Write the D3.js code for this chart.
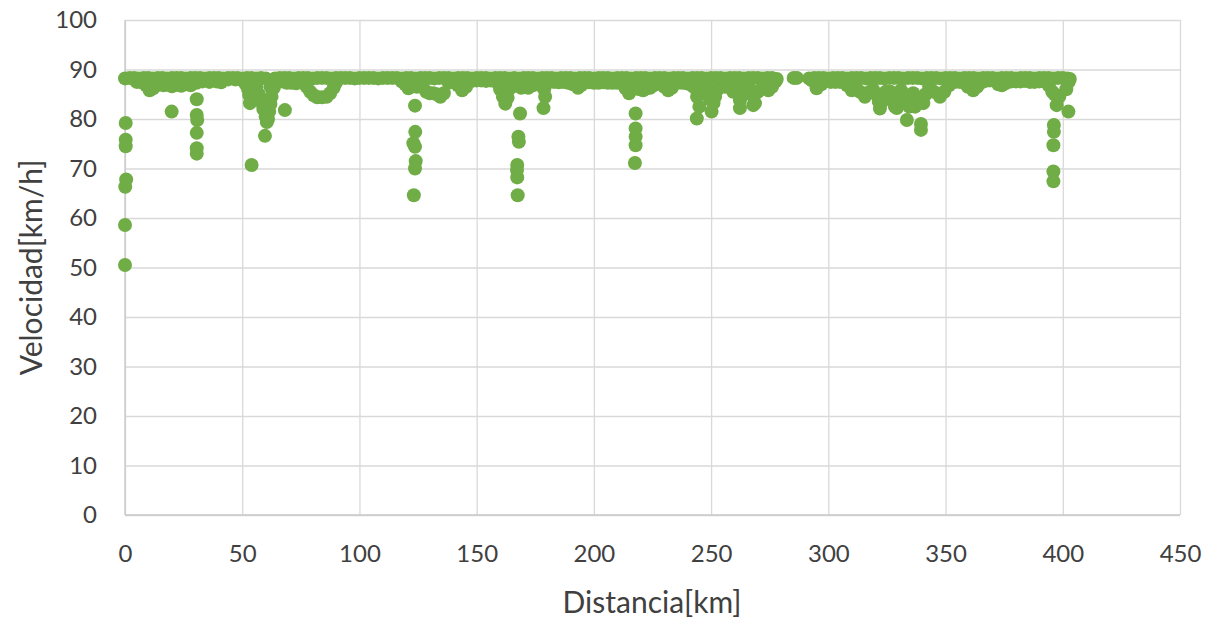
<!DOCTYPE html>
<html>
<head>
<meta charset="utf-8">
<script src="https://cdn.jsdelivr.net/npm/d3@7"></script>
<style>
  html, body { margin: 0; padding: 0; background: #fff; }
  svg { display: block; }
  text { font-family: Lato, "Open Sans", sans-serif; fill: #404040; }
</style>
</head>
<body>
<svg id="chart" width="1216" height="621"></svg>
<script>
// Tick labels
const xTicks = [0, 50, 100, 150, 200, 250, 300, 350, 400, 450];
const yTicks = [0, 10, 20, 30, 40, 50, 60, 70, 80, 90, 100];

// Cruise band: distance [km] and speed [km/h]
const bandaDist = [
  0, 2, 4, 6, 8, 10, 12, 14, 16, 18, 20, 22, 24, 26, 28, 30, 32, 34, 36, 38,
  40, 42, 44, 46, 48, 50, 52, 54, 56, 58, 60, 62, 64, 66, 68, 70, 72, 74, 76, 78,
  80, 82, 84, 86, 88, 90, 92, 94, 96, 98, 100, 102, 104, 106, 108, 110, 112, 114, 116, 118,
  120, 122, 124, 126, 128, 130, 132, 134, 136, 138, 140, 142, 144, 146, 148, 150, 152, 154, 156, 158,
  160, 162, 164, 166, 168, 170, 172, 174, 176, 178, 180, 182, 184, 186, 188, 190, 192, 194, 196, 198,
  200, 202, 204, 206, 208, 210, 212, 214, 216, 218, 220, 222, 224, 226, 228, 230, 232, 234, 236, 238,
  240, 242, 244, 246, 248, 250, 252, 254, 256, 258, 260, 262, 264, 266, 268, 270, 272, 274, 276, 278,
  285.2, 286.6, 291.8, 294, 296, 298, 300, 302, 304, 306, 308, 310, 312, 314, 316, 318, 320, 322, 324, 326,
  328, 330, 332, 334, 336, 338, 340, 342, 344, 346, 348, 350, 352, 354, 356, 358, 360, 362, 364, 366,
  368, 370, 372, 374, 376, 378, 380, 382, 384, 386, 388, 390, 392, 394, 396, 398, 400, 402, 403
];
const bandaVel = [
  88.2, 88.3, 88.3, 88.2, 88.3, 88.3, 88.2, 88.3, 88.3, 88.2, 88.3, 88.3, 88.3, 88.2, 88.3, 88.3, 88.3, 88.2, 88.3, 88.3,
  88.3, 88.2, 88.3, 88.3, 88.3, 88.2, 88.3, 88.3, 88.2, 88.3, 88.2, 86.5, 88.2, 88.3, 88.3, 88.3, 88.2, 88.3, 88.3, 88.3,
  88.2, 88.3, 88.3, 88.3, 88.2, 88.3, 88.3, 88.3, 88.3, 88.2, 88.3, 88.3, 88.3, 88.3, 88.2, 88.3, 88.3, 88.3, 88.3, 88.2,
  88.3, 88.3, 88.2, 88.3, 88.3, 88.3, 88.2, 88.3, 88.3, 88.3, 88.2, 88.3, 88.3, 88.3, 88.2, 88.3, 88.3, 88.3, 88.2, 88.3,
  88.3, 88.3, 88.2, 88.3, 88.2, 88.3, 88.3, 88.3, 88.2, 88.3, 88.3, 88.3, 88.2, 88.3, 88.3, 88.3, 88.2, 88.3, 88.3, 88.3,
  88.2, 88.3, 88.3, 88.3, 88.2, 88.3, 88.3, 88.3, 88.2, 88.3, 88.3, 88.3, 88.2, 88.3, 88.3, 88.3, 88.2, 88.3, 88.3, 88.3,
  88.2, 88.3, 88.3, 88.3, 88.2, 88.3, 88.3, 88.3, 88.2, 88.3, 88.3, 88.3, 88.2, 88.3, 88.3, 88.3, 88.2, 88.3, 88.3, 88.1,
  88.3, 88.3, 88.2, 88.3, 88.3, 88.3, 88.2, 88.3, 88.3, 88.3, 88.2, 88.3, 88.3, 88.3, 88.2, 88.3, 88.3, 88.3, 88.2, 88.3,
  88.3, 88.3, 88.2, 88.3, 88.3, 88.3, 88.2, 88.3, 88.3, 88.3, 88.2, 88.3, 88.3, 88.3, 88.2, 88.3, 88.3, 88.3, 88.2, 88.3,
  88.3, 88.3, 88.2, 88.3, 88.3, 88.3, 88.2, 88.3, 88.3, 88.3, 88.2, 88.3, 88.3, 88.3, 88.2, 88.3, 88.3, 88.2, 88.1
];

// Slower readings just under the cruise band
const lentoDist = [
  5, 7, 9, 10.5, 12, 13.5, 15, 16.5, 18, 20, 22, 24, 26, 28, 30.5, 33, 36, 39, 41, 44,
  47, 50, 51.5, 52.5, 53, 56, 57, 58, 59, 60, 60.5, 61, 61.5, 62, 62.5, 63.5, 64.5, 65, 67, 69,
  71, 73, 75, 77.5, 79, 80.5, 82, 84, 86, 87.5, 89, 90, 118, 119.5, 120.9, 122, 124.5, 127, 128.5, 130,
  131.5, 133, 134.5, 136, 138, 140, 142, 143.8, 145.5, 148, 150, 152, 154, 156, 158, 160, 161.2, 162.2, 163.2, 164.5,
  166, 169, 170.5, 172, 174, 176, 178.8, 179.2, 178.5, 181, 183, 185, 187, 189, 191, 193.2, 194.5, 196, 198, 200,
  202, 204, 206, 208, 210, 212, 213.5, 215, 216.5, 219.5, 221, 222.5, 224, 225.5, 227, 228.5, 230, 231.7, 233.3, 235.5,
  237.5, 239.5, 241, 242.5, 244, 245, 246, 248, 249.5, 251, 251.7, 252.5, 254, 256, 258, 259.4, 261, 262.3, 262.3, 263.5,
  265, 266.5, 268, 268, 268.7, 270, 272, 274.4, 276, 277.5, 293, 295, 297, 299, 301, 303, 305, 308, 310, 311.5,
  313.5, 315.6, 317, 319, 320.5, 321.5, 322, 323, 324.5, 326.5, 327.5, 328.4, 329.2, 330, 331, 332, 334.5, 335.5, 336.2, 337,
  340.5, 341.5, 343, 345, 347.6, 349.5, 351.5, 354, 356, 358, 359.5, 361.8, 363.5, 365, 367, 369, 372.5, 374, 375.5, 378,
  380, 382, 384, 386, 388, 390, 392, 394, 395.5, 396.5, 397.4, 398.5, 401.5, 402.5
];
const lentoVel = [
  87.5, 87.4, 86.8, 85.8, 86.2, 86.8, 87.0, 86.8, 87.0, 86.6, 86.9, 86.7, 87.0, 86.8, 87.3, 87.6, 87.5, 87.6, 87.4, 88.0,
  88.0, 87.8, 87.0, 86.0, 84.8, 86.5, 85.0, 83.5, 82.0, 80.5, 79.4, 80.0, 81.5, 83.0, 84.5, 86.3, 87.5, 87.5, 87.6, 87.3,
  87.3, 87.2, 87.4, 86.5, 85.5, 84.8, 84.4, 84.4, 84.5, 85.2, 86.3, 87.3, 87.6, 87.0, 86.2, 87.0, 86.5, 86.5, 85.5, 85.2,
  85.2, 85.0, 84.5, 85.2, 87.3, 87.5, 86.8, 85.8, 86.5, 87.7, 87.8, 87.8, 87.7, 87.8, 87.6, 86.0, 84.5, 83.1, 84.3, 86.3,
  86.8, 86.3, 86.5, 86.3, 86.8, 87.0, 86.0, 84.5, 82.2, 87.5, 87.5, 87.4, 87.5, 87.3, 87.0, 86.3, 86.8, 87.3, 87.4, 87.3,
  87.3, 87.4, 87.3, 87.3, 87.3, 87.2, 86.2, 85.2, 86.0, 86.0, 85.8, 86.2, 86.3, 86.8, 87.3, 87.2, 86.5, 85.8, 86.3, 87.3,
  87.3, 87.2, 87.0, 86.5, 84.5, 82.5, 85.9, 86.5, 84.0, 83.2, 84.5, 85.8, 86.8, 86.5, 86.5, 85.5, 86.5, 83.8, 82.2, 85.0,
  86.8, 86.0, 84.5, 82.8, 83.2, 85.5, 86.5, 85.8, 86.5, 87.6, 87.8, 86.2, 87.0, 87.8, 87.5, 87.5, 87.5, 86.8, 85.8, 86.5,
  85.5, 84.5, 85.3, 86.0, 85.0, 83.5, 82.1, 83.5, 85.5, 85.5, 83.8, 82.5, 82.2, 84.5, 85.8, 83.5, 82.5, 84.5, 85.2, 82.5,
  83.2, 85.0, 86.5, 85.5, 84.5, 85.5, 86.8, 87.5, 87.5, 87.3, 86.5, 85.8, 86.5, 87.3, 87.7, 87.8, 87.0, 86.8, 87.2, 87.6,
  87.6, 87.6, 87.7, 87.5, 87.5, 87.6, 87.6, 86.8, 85.5, 85.0, 82.8, 84.5, 86.0, 87.5
];

// Sharp slowdowns (stops, junctions, toll plazas)
const caidaDist = [
  0.3, 0.3, 0.3, 0.5, 0.1, 0, 0, 19.9, 30.6, 30.6, 30.8, 30.6, 30.6, 30.6, 53.3, 54, 59.7, 68.2,
  123.7, 123.8, 123, 123.7, 124, 123.7, 123.2, 168.5, 167.8, 168, 167.3, 167.2, 167.3, 167.5,
  217.8, 217.8, 217.8, 217.8, 217.5, 243.9, 250.2, 333.5, 339.5, 339.5, 339.8,
  396.2, 396.2, 396, 396, 396, 402.4
];
const caidaVel = [
  79.2, 75.8, 74.5, 67.8, 66.3, 58.6, 50.5, 81.5, 84.0, 80.8, 79.8, 77.2, 74.1, 73.0, 83.2, 70.7, 76.6, 81.8,
  82.7, 77.4, 75.1, 74.4, 71.5, 70.0, 64.6, 81.1, 76.4, 75.4, 70.7, 69.7, 68.2, 64.6,
  81.1, 78.1, 76.4, 74.7, 71.1, 80.1, 81.5, 79.8, 79.0, 77.8, 83.5,
  78.8, 77.4, 74.7, 69.4, 67.4, 81.5
];

const svg = d3.select("#chart");
const W = 1216, H = 621;
const plotL = 125, plotR = 1180, plotT = 20, plotB = 515;

const x = d3.scaleLinear().domain([0, 450]).range([plotL, plotR]);
const y = d3.scaleLinear().domain([0, 100]).range([plotB, plotT]);

svg.append("rect").attr("width", W).attr("height", H).attr("fill", "#fff");

// Gridlines
svg.append("g")
  .attr("transform", `translate(0,${plotB})`)
  .call(d3.axisBottom(x).tickValues(xTicks).tickSize(-(plotB - plotT)).tickFormat(""))
  .call(g => g.select(".domain").remove())
  .call(g => g.selectAll("line").attr("stroke", "#d9d9d9").attr("stroke-width", 1.3));

svg.append("g")
  .attr("transform", `translate(${plotL},0)`)
  .call(d3.axisLeft(y).tickValues(yTicks).tickSize(-(plotR - plotL)).tickFormat(""))
  .call(g => g.select(".domain").remove())
  .call(g => g.selectAll("line").attr("stroke", "#d9d9d9").attr("stroke-width", 1.3));

// Axis base lines
svg.append("line").attr("x1", plotL).attr("x2", plotR).attr("y1", plotB).attr("y2", plotB)
  .attr("stroke", "#c8c8c8").attr("stroke-width", 1.3);
svg.append("line").attr("x1", plotL).attr("x2", plotL).attr("y1", plotT).attr("y2", plotB)
  .attr("stroke", "#c8c8c8").attr("stroke-width", 1.3);

// Tick labels
svg.append("g")
  .attr("transform", `translate(0,${plotB})`)
  .call(d3.axisBottom(x).tickValues(xTicks).tickSize(0).tickPadding(30).tickFormat(d3.format("d")))
  .call(g => g.select(".domain").remove())
  .call(g => g.selectAll("text").attr("font-size", 24).attr("font-family", "Lato, sans-serif").attr("fill", "#404040"));

svg.append("g")
  .attr("transform", `translate(${plotL},0)`)
  .call(d3.axisLeft(y).tickValues(yTicks).tickSize(0).tickPadding(28).tickFormat(d3.format("d")))
  .call(g => g.select(".domain").remove())
  .call(g => g.selectAll("text").attr("font-size", 24).attr("font-family", "Lato, sans-serif").attr("fill", "#404040"));

// Points
const puntos = [];
bandaDist.forEach((d, i) => puntos.push([d, bandaVel[i]]));
lentoDist.forEach((d, i) => puntos.push([d, lentoVel[i]]));
caidaDist.forEach((d, i) => puntos.push([d, caidaVel[i]]));

svg.append("g")
  .selectAll("circle")
  .data(puntos)
  .join("circle")
  .attr("cx", d => x(d[0]))
  .attr("cy", d => y(d[1]))
  .attr("r", 7)
  .attr("fill", "#70ad47");

// Axis titles
svg.append("text")
  .attr("x", 652)
  .attr("y", 613)
  .attr("text-anchor", "middle")
  .attr("font-size", 30)
  .text("Distancia[km]");

svg.append("text")
  .attr("transform", `translate(42,${(plotT + plotB) / 2}) rotate(-90)`)
  .attr("text-anchor", "middle")
  .attr("font-size", 30)
  .text("Velocidad[km/h]");
</script>
</body>
</html>
